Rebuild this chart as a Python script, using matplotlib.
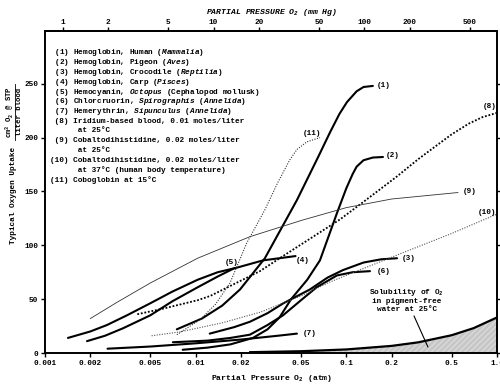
import numpy as np
import matplotlib
matplotlib.use('Agg')
import matplotlib.pyplot as plt
from matplotlib.ticker import FixedLocator, NullLocator, FixedFormatter

plt.rcParams['font.family'] = ['Liberation Mono', 'DejaVu Sans Mono']
plt.rcParams['font.weight'] = 'bold'
plt.rcParams['mathtext.fontset'] = 'custom'
plt.rcParams['mathtext.rm'] = 'Liberation Mono:bold'
plt.rcParams['mathtext.it'] = 'Liberation Mono:italic:bold'
plt.rcParams['mathtext.bf'] = 'Liberation Mono:bold'
plt.rcParams['mathtext.default'] = 'regular'

# oxygen partial pressure (atm) vs uptake (cm3 O2 / liter blood)
x1 = [0.0075, 0.011, 0.015, 0.0197, 0.0288, 0.047, 0.065, 0.078, 0.09, 0.101, 0.117, 0.13, 0.15]
y1 = [22, 32, 44, 59, 88, 142, 182, 205, 222, 233, 243, 247, 248]
x2 = [0.0082, 0.012, 0.017, 0.024, 0.03, 0.036, 0.043, 0.055, 0.0668, 0.0867, 0.1, 0.11, 0.117, 0.13, 0.15, 0.175]
y2 = [3, 5, 8, 14, 22, 33, 50, 68, 86, 130, 153, 166, 173, 179, 181.5, 182]
x3 = [0.0124, 0.018, 0.0229, 0.03, 0.038, 0.0573, 0.075, 0.095, 0.13, 0.17, 0.217]
y3 = [18, 24, 29, 37, 46, 59, 70, 77, 84, 87, 88]
x4 = [0.00142, 0.002, 0.00258, 0.0035, 0.00497, 0.007, 0.0103, 0.014, 0.0185, 0.028, 0.046]
y4 = [14, 20, 26, 35, 46, 57, 68, 75, 79, 86, 90]
x5 = [0.0019, 0.0025, 0.0033, 0.005, 0.007, 0.0103, 0.014, 0.0182]
y5 = [11, 16, 23, 35, 48, 61, 71, 79]
x6 = [0.00706, 0.012, 0.017, 0.0229, 0.03, 0.038, 0.05, 0.0635, 0.0865, 0.11, 0.1435]
y6 = [10, 11.5, 14, 17, 26, 35, 49, 61, 72, 75, 76]
x7 = [0.0026, 0.005, 0.01, 0.02, 0.035, 0.047]
y7 = [4, 6, 9, 12.5, 16, 18]
x8 = [0.0041, 0.006, 0.0103, 0.0125, 0.0267, 0.038, 0.0907, 0.129, 0.217, 0.3, 0.4, 0.5, 0.65, 0.8, 1.0]
y8 = [36, 41, 49, 53, 76, 90, 124, 140, 164, 180, 193, 203, 213, 219, 223]
x9 = [0.002, 0.003, 0.005, 0.0103, 0.0229, 0.05, 0.1, 0.2, 0.55]
y9 = [32, 47, 65, 88, 108, 123, 135, 143, 149]
x10 = [0.0051, 0.0078, 0.015, 0.027, 0.05, 0.078, 0.2, 0.5, 1.0]
y10 = [16, 19.5, 28, 38, 53, 66, 89, 111, 129]
x11 = [0.0075, 0.0107, 0.0135, 0.0169, 0.0218, 0.0288, 0.035, 0.042, 0.047, 0.0546, 0.0668]
y11 = [17, 31, 45, 65, 102, 133, 158, 179, 189, 196, 200]
x_water = [0.023, 0.05, 0.1, 0.2, 0.3, 0.5, 0.7, 1.0]
y_water = [0.76, 1.65, 3.3, 6.6, 9.9, 16.5, 23.1, 33]

label_pos = {
    '(1)': (0.158, 248), '(2)': (0.182, 183), '(3)': (0.235, 88),
    '(4)': (0.046, 85.5), '(5)': (0.0157, 84), '(6)': (0.158, 76),
    '(7)': (0.051, 17.7), '(8)': (0.80, 229), '(9)': (0.59, 150),
    '(10)': (0.75, 130), '(11)': (0.051, 204),
}

xticks = [0.001, 0.002, 0.005, 0.01, 0.02, 0.05, 0.1, 0.2, 0.5, 1.0]
xticklabels = ['0.001', '0.002', '0.005', '0.01', '0.02', '0.05', '0.1', '0.2', '0.5', '1.0']
mmhg_ticks = [1, 2, 5, 10, 20, 50, 100, 200, 500]
yticks = [0, 50, 100, 150, 200, 250]

legend_lines = [
    r' (1) Hemoglobin, Human ($\mathit{Mammalia}$)',
    r' (2) Hemoglobin, Pigeon ($\mathit{Aves}$)',
    r' (3) Hemoglobin, Crocodile ($\mathit{Reptilia}$)',
    r' (4) Hemoglobin, Carp ($\mathit{Pisces}$)',
    r' (5) Hemocyanin, $\mathit{Octopus}$ (Cephalopod mollusk)',
    r' (6) Chlorcruorin, $\mathit{Spirographis}$ $\mathit{(Annelida)}$',
    r' (7) Hemerythrin, $\mathit{Sipunculus}$ $\mathit{(Annelida)}$',
    ' (8) Iridium-based blood, 0.01 moles/liter',
    '      at 25°C',
    ' (9) Cobaltodihistidine, 0.02 moles/liter',
    '      at 25°C',
    '(10) Cobaltodihistidine, 0.02 moles/liter',
    '      at 37°C (human body temperature)',
    '(11) Coboglobin at 15°C',
]

W, H = 500, 389
fs = 5.6
fig = plt.figure(figsize=(W / 100, H / 100), dpi=100)
ax = fig.add_axes([45 / W, 1 - 353 / H, 452 / W, 322 / H])

thick = dict(color='black', lw=1.5, solid_capstyle='round')
ax.plot(x1, y1, **thick)
ax.plot(x2, y2, **thick)
ax.plot(x3, y3, **thick)
ax.plot(x4, y4, **thick)
ax.plot(x5, y5, **thick)
ax.plot(x6, y6, **thick)
ax.plot(x7, y7, **thick)
ax.plot(x8, y8, color='black', lw=1.3, ls=(0, (1, 1)))
ax.plot(x9, y9, color='#333333', lw=0.6)
ax.plot(x10, y10, color='#555555', lw=0.8, ls=(0, (1, 1.3)))
ax.plot(x11, y11, color='#333333', lw=0.8, ls=(0, (1, 1.3)))

ax.fill_between(x_water, 0, y_water, facecolor='#c6c6c6', edgecolor='#dadada',
                hatch='//////', lw=0)
ax.plot(x_water, y_water, color='black', lw=1.6)

for txt, (lx, ly) in label_pos.items():
    ax.text(lx, ly, txt, fontsize=fs, ha='left', va='center')

ax.annotate('Solubility of O$_2$\nin pigment-free\nwater at 25°C',
            xy=(0.348, 5.6), xytext=(0.252, 37), fontsize=fs, ha='center', va='bottom',
            linespacing=1.15,
            arrowprops=dict(arrowstyle='-', lw=0.8, color='black', shrinkA=0, shrinkB=0))

ax.set_xscale('log')
ax.set_xlim(0.001, 1.0)
ax.set_ylim(0, 299)
ax.xaxis.set_major_locator(FixedLocator(xticks))
ax.xaxis.set_major_formatter(FixedFormatter(xticklabels))
ax.xaxis.set_minor_locator(NullLocator())
ax.set_yticks(yticks)
ax.tick_params(axis='both', labelsize=fs, length=3, width=1, pad=2, direction='out')
ax.tick_params(axis='y', right=True)
for s in ax.spines.values():
    s.set_linewidth(1.4)

top = ax.secondary_xaxis('top', functions=(lambda p: p * 760.0, lambda m: m / 760.0))
top.xaxis.set_major_locator(FixedLocator(mmhg_ticks))
top.xaxis.set_major_formatter(FixedFormatter([str(m) for m in mmhg_ticks]))
top.xaxis.set_minor_locator(NullLocator())
top.tick_params(labelsize=fs, length=2.8, width=1, pad=1)
top.spines['top'].set_linewidth(1.4)

fig.text(272 / W, 1 - 378 / H, 'Partial Pressure O$_2$ (atm)', fontsize=fs + 0.3,
         ha='center', va='center')
fig.text(272 / W, 1 - 12 / H, 'PARTIAL PRESSURE O$_2$ (mm Hg)', fontsize=fs + 0.3,
         ha='center', va='center', fontstyle='italic')

# y label: "Typical Oxygen Uptake" + fraction
fig.text(14 / W, 1 - 195 / H, 'Typical Oxygen Uptake', fontsize=fs, rotation=90,
         ha='center', va='center')
fig.text(10 / W, 1 - 112 / H, 'cm$^3$ O$_2$ @ STP', fontsize=fs - 0.4, rotation=90,
         ha='center', va='center')
fig.text(19.5 / W, 1 - 112 / H, 'liter blood', fontsize=fs - 0.4, rotation=90,
         ha='center', va='center')
fig.add_artist(plt.Line2D([14.8 / W, 14.8 / W], [1 - 84 / H, 1 - 140 / H],
                          color='black', lw=0.6))

# legend block drawn as monospace text
for i, line in enumerate(legend_lines):
    ypx = 53 + 9.75 * i
    fig.text(50 / W, 1 - ypx / H, line, fontsize=fs, ha='left', va='center')

fig.savefig('out.png', dpi=100)
